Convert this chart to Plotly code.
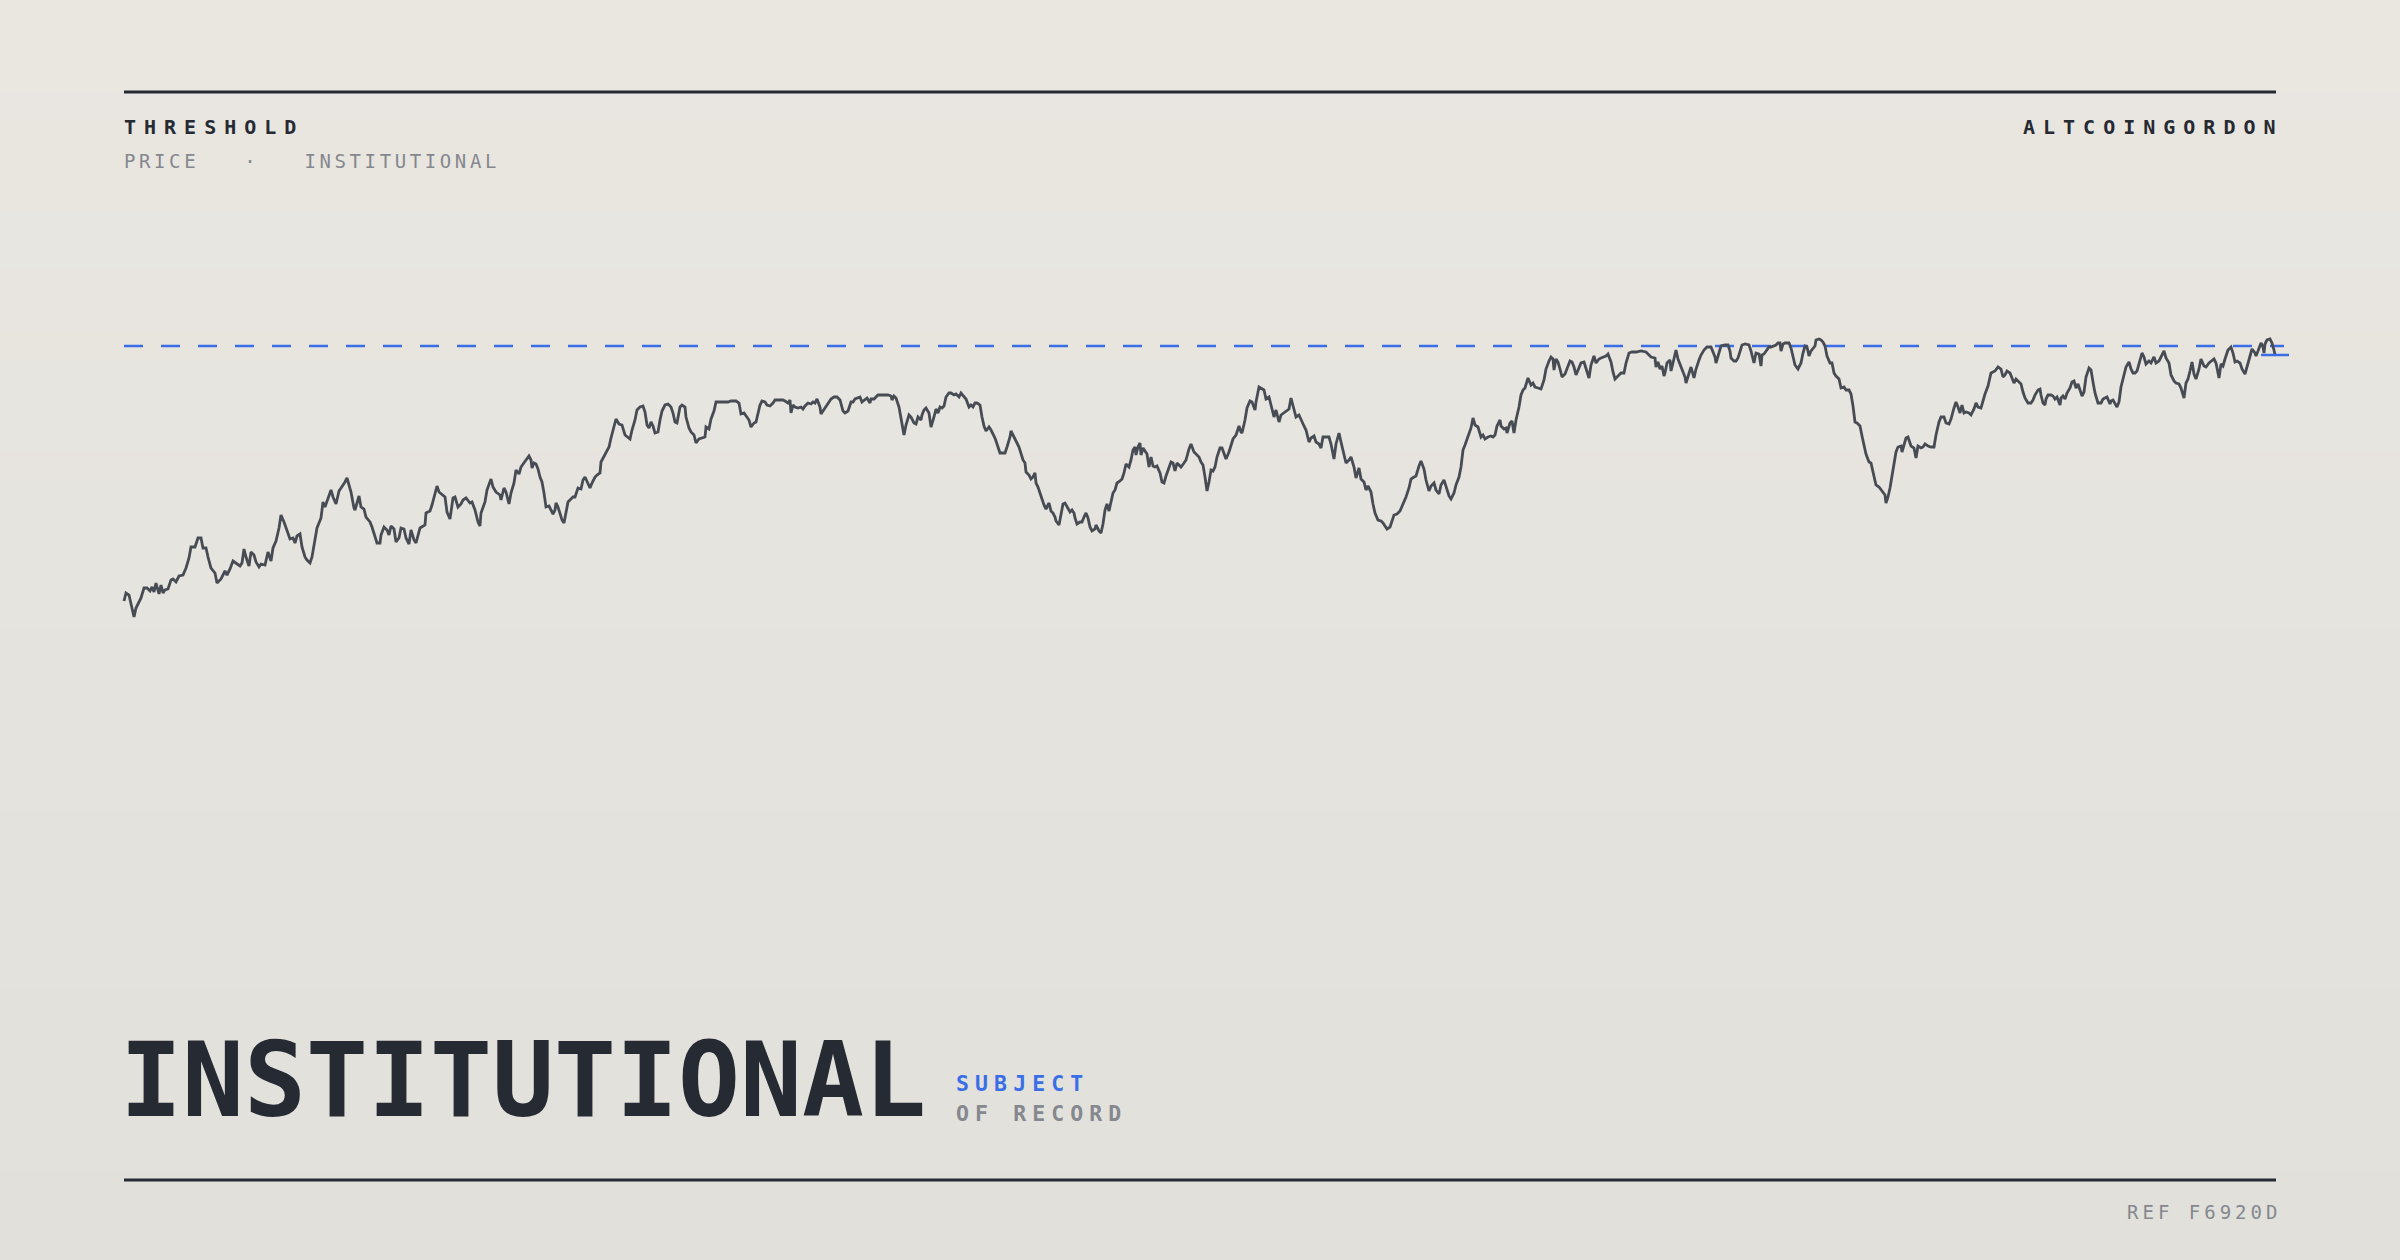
import plotly.graph_objects as go

# ---- data: (period, price) readings, traced left to right ----
seg_1 = [(0,99),(2,107),(5,105),(7,95),(10,83),(12,92),(15,99),(17,102),(20,112),(23,112),(26,109),(28,113),(30,108),(32,117),(35,106),(37,115),(39,107),(41,110),(44,111),(47,120),(49,121),(52,118),(55,124),(59,125),(62,132),(65,142),(67,153),(71,153),(74,162),(77,162),(79,152),(82,152),(84,143),(87,132),(91,127),(93,117),(97,121),(101,129),(103,125),(106,131),(109,139),(112,137),(116,134),(118,137),(120,151),(122,143),(125,134),(127,148),(130,145),(132,138),(135,133),(137,136),(141,135),(144,148),(147,139),(149,152),(152,159),(155,172),(157,185),(160,178),(162,172),(166,161),(169,162),(171,157),(173,164),(176,166),(178,153),(181,143),(183,140),(186,137),(188,143),(191,162),(193,172),(197,182),(199,198),(201,193),(204,202),(207,210),(209,203),(212,196),(215,209),(218,213),(221,218),(223,222),(226,213),(227,208),(230,192),(231,190),(233,197),(235,204),(237,193),(240,191),(242,183),(246,178),(248,173),(251,162),(253,157),(256,157),(257,165),(260,173),(263,170),(265,165),(267,174),(270,171),(272,158),(275,162),(277,172),(280,171),(282,162),(285,156),(287,170),(290,160),(292,157),(296,172),(298,173),(301,175),(302,187),(306,189),(308,195),(311,208),(313,214),(315,208),(318,205),(321,203),(323,188),(326,181),(329,202),(331,203),(334,193),(337,196),(339,200),(342,202),(346,197),(348,198),(351,190),(354,178),(356,174)]
seg_2 = [(357,187),(361,198),(363,210),(367,221),(369,213),(372,208),(376,205),(377,200),(380,212),(382,208),(385,196),(387,207),(390,217),(392,230),(395,226),(397,233),(400,238),(402,240),(405,244),(407,240),(408,232),(410,237),(412,236),(414,231),(416,223),(418,218),(420,207),(422,193),(425,194),(427,190),(429,186),(431,190),(432,197),(434,193),(436,187),(438,180),(440,177),(442,187),(444,198),(447,201),(449,203),(451,203),(454,212),(457,211),(459,220),(461,223),(463,218),(466,212),(468,217),(471,223),(473,225),(476,227),(477,238),(480,244),(482,248),(485,253),(487,262),(490,273),(492,281),(495,276),(498,275),(501,265),(503,263),(506,261),(508,270),(511,280),(513,290),(516,293),(519,294),(521,288),(523,275),(525,272),(527,278),(529,274),(531,267),(534,268),(536,280),(538,289),(541,295),(544,296),(547,293),(549,287),(551,278),(553,277),(556,293),(558,295),(561,293),(562,283),(565,272),(567,268),(570,265),(572,257),(575,261),(578,262),(581,263),(582,273),(585,271),(587,281),(590,289),(592,298),(596,298),(601,298),(604,298),(607,299),(612,299),(615,297),(617,286),(620,287),(622,284),(625,280),(627,273),(630,277),(632,278),(634,287),(636,295),(638,299),(641,298),(643,295),(646,294),(649,297),(651,300),(656,300),(659,300),(661,299),(664,297),(666,300),(667,287),(669,295),(671,293),(674,292),(677,293),(679,291),(681,294),(684,297),(687,296),(689,298),(691,297),(693,301),(696,293),(697,286),(701,292),(704,297),(707,301),(710,303),(713,303),(716,300),(719,289)]
seg_3 = [(721,287),(724,289),(727,298),(729,298),(731,301),(734,302),(736,303),(738,298),(741,301),(743,302),(746,297),(747,301),(750,301),(752,303),(754,305),(759,305),(764,305),(767,304),(768,300),(770,304),(772,302),(775,293),(777,280),(780,265),(782,275),(785,285),(787,283),(790,277),(792,276),(794,283),(797,280),(798,285),(800,290),(802,292),(805,287),(807,273),(810,283),(812,291),(814,287),(816,293),(818,292),(820,294),(822,303),(825,307),(827,307),(830,305),(832,306),(835,303),(837,307),(840,303),(842,301),(845,293),(847,295),(849,293),(851,297),(853,297),(856,295),(858,283),(860,274),(862,269),(865,273),(867,270),(869,266),(871,262),(873,256),(876,247),(878,247),(881,247),(883,253),(886,263),(887,269),(890,262),(892,259),(895,253),(897,247),(899,240),(901,237),(902,228),(905,225),(907,221),(909,223),(911,227),(912,217),(914,213),(916,207),(918,200),(920,195),(922,191),(925,197),(927,189),(929,187),(931,183),(932,179),(935,175),(937,186),(939,196),(941,197),(943,193),(946,188),(948,190),(950,187),(951,182),(953,176),(956,178),(958,178),(960,183),(962,187),(964,182),(966,173),(968,169),(971,171),(972,175),(975,169),(977,167),(979,176),(981,190),(983,196),(985,189),(987,200),(989,207),(991,210),(993,217),(996,219),(998,221),(1000,227),(1002,236),(1005,233),(1007,240),(1009,250),(1011,253),(1012,245),(1014,253),(1016,257),(1017,245),(1019,252),(1021,249),(1023,246),(1025,233),(1027,243),(1029,234),(1031,233),(1033,234),(1036,227),(1038,218),(1040,217),(1042,224),(1044,229),(1047,238),(1049,237),(1051,229),(1053,237),(1056,234),(1057,233),(1060,237),(1062,240),(1065,251),(1067,256),(1070,248),(1072,246),(1075,243),(1077,238),(1079,235)]
seg_4 = [(1081,223),(1083,209),(1085,218),(1087,230),(1089,229),(1091,233),(1093,243),(1096,252),(1098,252),(1101,244),(1102,241),(1105,248),(1107,255),(1109,261),(1112,265),(1115,274),(1117,268),(1118,267),(1121,280),(1123,292),(1126,299),(1128,298),(1131,290),(1132,298),(1135,313),(1137,312),(1140,310),(1142,301),(1145,303),(1147,295),(1150,283),(1152,290),(1155,278),(1157,285),(1160,287),(1162,289),(1165,291),(1167,302),(1170,291),(1172,283),(1175,285),(1177,280),(1180,274),(1182,270),(1185,258),(1187,262),(1190,264),(1192,258),(1195,256),(1197,252),(1199,263),(1201,263),(1205,263),(1207,256),(1210,241),(1212,256),(1215,267),(1217,258),(1220,247),(1222,237),(1225,240),(1227,243),(1230,233),(1232,222),(1235,232),(1237,221),(1240,218),(1242,210),(1244,214),(1247,208),(1249,196),(1251,187),(1254,180),(1257,179),(1259,177),(1261,174),(1263,171),(1266,173),(1268,180),(1270,185),(1273,186),(1276,189),(1279,196),(1282,203),(1285,212),(1287,221),(1290,223),(1292,224),(1295,234),(1297,239),(1300,231),(1302,220),(1305,209),(1307,214),(1310,217),(1312,210),(1315,206),(1317,215),(1320,220),(1322,213),(1325,204),(1327,201),(1330,207),(1332,215),(1335,223),(1337,233),(1339,250),(1341,255),(1344,263),(1347,272),(1349,282),(1351,275),(1354,273),(1357,263),(1359,265),(1361,261),(1364,263),(1367,264),(1369,263),(1371,265),(1373,274),(1376,280),(1377,274),(1380,271),(1382,272),(1383,267),(1386,277),(1388,279),(1390,267),(1392,280),(1395,293),(1397,305),(1399,310),(1401,312),(1404,322),(1407,315),(1409,317),(1411,313),(1414,312),(1417,311),(1420,320),(1422,331),(1425,339),(1427,343),(1429,341),(1430,330),(1432,341),(1434,338),(1436,331)]
seg_5 = [(1438,323),(1441,326),(1443,331),(1446,339),(1448,338),(1450,333),(1452,325),(1455,332),(1457,337),(1460,338),(1462,332),(1465,322),(1467,335),(1470,344),(1472,337),(1475,341),(1477,342),(1480,343),(1482,344),(1484,346),(1487,338),(1489,328),(1491,321),(1494,324),(1497,327),(1500,327),(1502,337),(1505,347),(1508,348),(1512,348),(1517,349),(1522,348),(1525,345),(1527,343),(1531,342),(1532,333),(1534,338),(1536,331),(1538,334),(1540,324),(1541,327),(1543,337),(1546,340),(1547,329),(1549,337),(1551,344),(1552,350),(1554,341),(1557,333),(1559,327),(1561,323),(1562,317),(1565,328),(1567,333),(1570,322),(1572,331),(1575,340),(1577,345),(1580,350),(1583,353),(1587,353),(1589,348),(1591,343),(1592,337),(1595,347),(1597,354),(1601,355),(1604,355),(1606,349),(1607,342),(1610,339),(1612,339),(1614,342),(1616,350),(1618,355),(1621,356),(1625,355),(1627,349),(1630,337),(1632,347),(1635,346),(1637,334),(1638,345),(1640,346),(1642,349),(1645,353),(1647,353),(1650,354),(1652,355),(1654,357),(1656,357),(1657,349),(1659,356),(1661,357),(1665,357),(1667,352),(1669,343),(1671,335),(1674,331),(1677,337),(1679,347),(1681,354),(1683,353),(1685,344),(1687,349),(1689,351),(1691,354),(1692,360),(1695,361),(1697,360),(1699,358),(1701,354),(1703,344),(1706,337),(1708,337),(1710,327),(1712,324),(1715,321),(1717,312),(1720,313),(1722,310),(1725,310),(1727,306),(1729,294),(1731,278),(1733,277),(1736,274),(1738,264),(1740,255),(1742,246),(1745,238),(1747,237),(1749,228),(1751,220),(1752,215),(1755,213),(1757,210),(1759,207),(1761,205),(1762,197),(1764,203),(1766,212),(1768,223),(1770,233),(1772,248),(1774,253),(1777,254),(1778,248),(1780,256),(1782,262),(1784,263),(1786,257),(1787,254),(1790,252),(1792,242),(1794,254),(1797,252)]
seg_6 = [(1799,253),(1801,256),(1804,254),(1807,253),(1810,253),(1812,265),(1815,278),(1817,283),(1820,283),(1822,277),(1825,276),(1827,281),(1830,292),(1832,298),(1834,293),(1836,287),(1838,295),(1840,287),(1842,288),(1845,287),(1847,285),(1850,291),(1852,297),(1854,293),(1857,292),(1859,300),(1861,306),(1864,314),(1867,327),(1869,328),(1871,329),(1874,333),(1877,331),(1879,323),(1881,325),(1883,329),(1886,327),(1888,322),(1890,317),(1892,321),(1894,319),(1897,316),(1899,308),(1901,302),(1904,297),(1907,297),(1909,300),(1911,305),(1914,310),(1916,311),(1917,305),(1919,297),(1921,295),(1922,301),(1924,305),(1927,305),(1929,304),(1931,301),(1933,303),(1936,295),(1937,302),(1939,304),(1941,301),(1943,307),(1946,312),(1948,318),(1950,319),(1952,312),(1954,316),(1956,309),(1958,304),(1960,308),(1962,323),(1965,332),(1967,330),(1969,318),(1971,307),(1974,297),(1977,297),(1979,301),(1981,302),(1983,303),(1986,296),(1987,299),(1989,300),(1991,297),(1993,293),(1995,298),(1997,313),(2000,325),(2002,333),(2005,338),(2007,331),(2009,327),(2011,327),(2013,329),(2016,341),(2018,347),(2020,343),(2022,336),(2025,339),(2027,337),(2030,343),(2032,337),(2035,339),(2037,343),(2040,349),(2042,342),(2045,337),(2047,325),(2050,319),(2052,317),(2055,316),(2057,312),(2060,302),(2062,317),(2064,321),(2066,329),(2068,338),(2070,326),(2072,321),(2075,331),(2077,341),(2080,334),(2082,333),(2085,337),(2087,339),(2090,341),(2092,337),(2095,322),(2097,336),(2099,334),(2101,341),(2104,350),(2107,353),(2109,347),(2111,338),(2113,339),(2116,337),(2118,331),(2121,326),(2123,333),(2126,343),(2128,351),(2131,347),(2132,344),(2134,349),(2137,357),(2139,353),(2140,347),(2141,356),(2143,360),(2146,361),(2148,357),(2150,350),(2151,345)]

threshold_level = 354
threshold_span = [0, 2160]

title_main = "INSTITUTIONAL"
title_tag1 = "SUBJECT"
title_tag2 = "OF RECORD"
brand_left = "THRESHOLD"
brand_sub = "PRICE   ·   INSTITUTIONAL"
brand_right = "ALTCOINGORDON"
ref_code = "REF F6920D"

# ---- assemble ----
points = seg_1 + seg_2 + seg_3 + seg_4 + seg_5 + seg_6
period = [p[0] for p in points]
price = [p[1] for p in points]

W, H = 2400, 1260
INK = "#262a33"
GREY = "#85888e"
BLUE = "#3a6ee6"
LINE = "#474b54"
MONO = "DejaVu Sans Mono"

fig = go.Figure()

fig.add_trace(go.Scatter(
    x=threshold_span, y=[threshold_level, threshold_level], mode="lines",
    line=dict(color=BLUE, width=2.5, dash="19px,18px"), hoverinfo="skip"))

fig.add_trace(go.Scatter(
    x=period, y=price, mode="lines",
    line=dict(color=LINE, width=2.8, shape="linear"), hoverinfo="skip"))

fig.add_trace(go.Scatter(
    x=[period[-1]], y=[price[-1]], mode="markers",
    marker=dict(symbol="line-ew", size=20, line=dict(color=BLUE, width=2.5)),
    hoverinfo="skip"))

def px(x):
    return x / W

def py(y):
    return 1 - y / H

shapes = []
# subtle vertical background gradient
top = (234, 231, 225)
bot = (225, 224, 219)
n = 42
for i in range(n):
    t = i / (n - 1)
    c = tuple(round(top[k] + (bot[k] - top[k]) * t) for k in range(3))
    shapes.append(dict(type="rect", xref="paper", yref="paper",
                       x0=0, x1=1, y0=1 - (i + 1) / n - 0.002, y1=1 - i / n,
                       fillcolor="rgb(%d,%d,%d)" % c, line=dict(width=0), layer="below"))
# rules
for yy in (92, 1180):
    shapes.append(dict(type="line", xref="paper", yref="paper",
                       x0=px(124), x1=px(2276), y0=py(yy), y1=py(yy),
                       line=dict(color=INK, width=3), layer="above"))

def sp(text, ls):
    return '<span style="letter-spacing:%spx">%s</span>' % (ls, text)

ann = []
ann.append(dict(text=sp(brand_left, 8), x=px(122), y=py(127), xanchor="left", yanchor="middle",
                font=dict(family=MONO, size=20, color=INK, weight=700)))
ann.append(dict(text=sp(brand_sub, 3.6), x=px(122), y=py(161), xanchor="left", yanchor="middle",
                font=dict(family=MONO, size=19, color=GREY, weight=400)))
ann.append(dict(text=sp(brand_right, 8), x=px(2286), y=py(127), xanchor="right", yanchor="middle",
                font=dict(family=MONO, size=20, color=INK, weight=700)))
ann.append(dict(text=title_main, x=px(118), y=py(1080), xanchor="left", yanchor="middle",
                font=dict(family=MONO, size=103, color=INK, weight=700)))
ann.append(dict(text=sp(title_tag1, 6.1), x=px(954), y=py(1083), xanchor="left", yanchor="middle",
                font=dict(family=MONO, size=21.5, color=BLUE, weight=700)))
ann.append(dict(text=sp(title_tag2, 6.1), x=px(954), y=py(1113), xanchor="left", yanchor="middle",
                font=dict(family=MONO, size=21.5, color=GREY, weight=700)))
ann.append(dict(text=sp(ref_code, 4), x=px(2283), y=py(1212), xanchor="right", yanchor="middle",
                font=dict(family=MONO, size=19, color=GREY, weight=400)))
for a in ann:
    a.update(xref="paper", yref="paper", showarrow=False)

fig.update_layout(
    width=W, height=H, autosize=False,
    margin=dict(l=0, r=0, t=0, b=0, pad=0),
    paper_bgcolor="#e6e4de", plot_bgcolor="rgba(0,0,0,0)",
    showlegend=False,
    xaxis=dict(range=[-124, 2276], visible=False, fixedrange=True),
    yaxis=dict(range=[-560, 700], visible=False, fixedrange=True),
    shapes=shapes, annotations=ann,
)

fig.write_html("out.html", config={"displayModeBar": False},
               post_script="document.body.style.margin='0';document.body.style.overflow='hidden';")
